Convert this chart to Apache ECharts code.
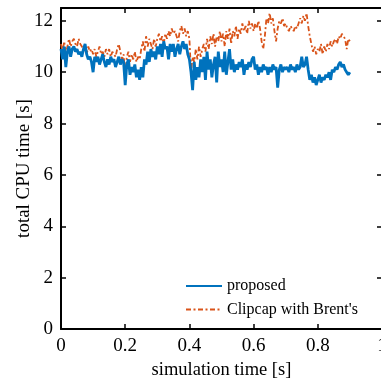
<!DOCTYPE html>
<html><head><meta charset="utf-8">
<script src="https://cdn.jsdelivr.net/npm/echarts@6/dist/echarts.min.js"></script>
<style>html,body{margin:0;padding:0;background:#fff;}#c{width:381px;height:385px;}</style>
</head><body><div id="c"></div>
<script>
const step = 0.005;
const proposed = [
10.9,10.5,11.0,10.2,10.8,11.0,10.6,10.9,11.0,10.8,
10.9,10.7,10.8,10.6,10.9,11.1,10.7,10.5,10.6,10.4,
10.0,10.6,10.4,10.6,10.3,10.5,10.7,10.4,10.2,10.5,
10.3,10.6,10.4,10.5,10.2,10.4,10.6,10.3,10.5,10.4,
9.5,10.3,10.5,9.9,10.2,10.0,10.3,9.8,10.1,9.7,
10.2,9.8,10.5,10.3,10.8,10.4,10.9,10.6,10.8,10.5,
11.0,10.7,11.1,10.6,11.2,10.9,11.0,10.5,11.1,10.8,
11.1,10.6,10.9,11.1,10.7,11.0,11.2,10.9,11.1,10.7,
10.5,10.0,9.3,10.4,9.7,10.2,9.8,10.5,10.0,10.6,
9.7,10.8,10.1,10.5,9.8,10.3,10.6,9.6,10.8,10.2,
10.5,10.0,10.8,9.9,10.4,10.9,10.1,10.5,10.0,10.3,
10.1,10.4,10.2,10.5,9.9,10.3,10.1,10.4,10.2,10.5,
10.6,10.1,10.3,9.9,10.2,10.0,10.3,10.1,10.2,9.9,
10.2,10.0,10.3,10.1,10.2,9.4,10.1,10.3,10.0,10.2,
10.1,10.2,10.0,10.3,10.1,10.2,10.0,10.3,10.1,10.2,
10.6,10.2,10.3,10.6,10.1,9.7,9.9,9.6,9.8,9.5,
9.7,9.9,9.6,9.8,9.7,9.9,9.8,10.0,9.7,10.1,
10.0,10.2,10.1,10.3,10.4,10.2,10.3,10.1,10.0,9.9,
10.0];
const clipcap = [
11.1,10.8,11.2,10.7,11.0,11.3,11.0,11.2,11.3,11.1,
11.0,11.3,11.1,11.0,10.8,10.9,10.7,11.0,10.8,10.9,
10.7,10.9,10.6,10.8,11.0,10.7,10.8,10.6,10.9,10.7,
10.9,10.6,10.8,10.7,10.6,10.9,11.1,10.8,10.5,10.7,
9.9,10.6,10.8,10.4,10.7,10.5,10.8,10.4,10.6,10.5,
10.9,11.2,10.8,11.4,11.0,11.3,11.1,10.9,11.3,11.0,
11.3,11.5,11.2,11.4,11.1,11.5,11.3,11.6,11.4,11.7,
11.5,11.6,11.4,11.2,11.6,11.8,11.5,11.7,11.4,11.6,
11.3,10.0,10.6,10.4,10.9,10.5,11.0,10.6,10.9,11.1,
10.8,11.3,10.9,11.4,11.1,11.5,11.0,11.4,11.2,11.6,
11.2,11.5,11.0,11.6,11.3,11.7,11.1,11.6,11.4,11.8,
11.3,11.7,11.5,11.9,11.6,11.8,11.5,12.0,11.7,11.9,
11.6,11.9,11.7,12.0,11.7,11.2,10.9,11.4,12.1,11.9,
12.3,11.9,12.1,11.6,11.2,11.7,12.0,11.9,12.1,11.8,
11.9,11.7,11.6,11.8,11.7,11.6,11.8,11.7,11.9,12.1,
11.9,12.2,12.0,12.3,11.8,11.4,11.1,10.8,11.0,10.7,
10.9,10.8,11.1,10.7,11.0,10.8,11.1,10.9,11.2,11.0,
11.2,11.3,11.1,11.4,11.3,11.5,11.4,11.3,10.9,11.3,
11.2];
const xTicks = [0, 0.2, 0.4, 0.6, 0.8, 1];
const yTicks = [0, 2, 4, 6, 8, 10, 12];

const toPts = arr => arr.map((v, i) => [+(i * step).toFixed(3), v]);
const font = "'Liberation Serif','Times New Roman',serif";
const chart = echarts.init(document.getElementById('c'), null, {renderer: 'canvas'});
const axLine = {show: true, onZero: false, lineStyle: {color: '#000', width: 2}};
const tick = {show: true, inside: true, length: 5, lineStyle: {color: '#000', width: 1.5}};
chart.setOption({
  animation: false,
  backgroundColor: '#fff',
  grid: {left: 61, top: 8, width: 321, height: 321, containLabel: false, outerBoundsMode: 'none'},
  legend: {
    left: 185, top: 278, padding: 0, orient: 'vertical', itemWidth: 36, itemHeight: 14, itemGap: 7.5,
    textStyle: {fontFamily: font, fontSize: 16, color: '#000'},
    itemStyle: {opacity: 0, color: 'rgba(0,0,0,0)', borderWidth: 0},
    data: ['proposed', "Clipcap with Brent's"]
  },
  xAxis: [{
    type: 'value', min: 0, max: 1, interval: 0.2, position: 'bottom',
    axisLine: axLine, axisTick: tick, splitLine: {show: false},
    axisLabel: {fontFamily: font, fontSize: 19, color: '#000', margin: 8,
      formatter: v => (xTicks.some(t => Math.abs(t - v) < 1e-9) ? String(+v.toFixed(1)) : '')},
    name: 'simulation time [s]', nameLocation: 'middle', nameGap: 32, nameMoveOverlap: false,
    nameTextStyle: {fontFamily: font, fontSize: 18.5, color: '#000'}
  }, {
    type: 'value', min: 0, max: 1, interval: 0.2, position: 'top',
    axisLine: axLine, axisTick: tick, axisLabel: {show: false}, splitLine: {show: false}
  }],
  yAxis: [{
    type: 'value', min: 0, max: 12.5, interval: 2, position: 'left',
    axisLine: axLine, axisTick: tick, splitLine: {show: false},
    axisLabel: {fontFamily: font, fontSize: 19, color: '#000', margin: 8,
      formatter: v => (yTicks.includes(v) ? String(v) : '')},
    name: 'total CPU time [s]', nameLocation: 'middle', nameGap: 27, nameRotate: 90, nameMoveOverlap: false,
    nameTextStyle: {fontFamily: font, fontSize: 19, color: '#000'}
  }, {
    type: 'value', min: 0, max: 12.5, interval: 2, position: 'right',
    axisLine: axLine, axisTick: tick, axisLabel: {show: false}, splitLine: {show: false}
  }],
  series: [{
    name: 'proposed', type: 'line', data: toPts(proposed), showSymbol: false, symbol: 'none',
    lineStyle: {color: '#0072BD', width: 2.8}, itemStyle: {color: '#0072BD'}, z: 3
  }, {
    name: "Clipcap with Brent's", type: 'line', data: toPts(clipcap), showSymbol: false, symbol: 'none',
    lineStyle: {color: '#D95319', width: 1.8, type: [5, 2.5, 2, 2.5]}, itemStyle: {color: '#D95319'}, z: 2
  }]
});
</script></body></html>
